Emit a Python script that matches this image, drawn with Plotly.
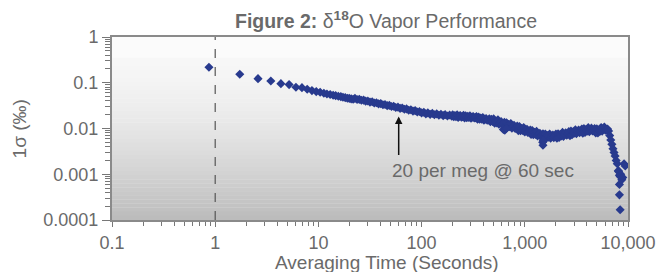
import plotly.graph_objects as go

# ---- data ----
tau_a = [0.87, 1.73, 2.60, 3.46, 4.33, 5.20, 6.06, 6.93, 7.79, 8.66, 9.53, 10.4,
         11.3, 12.1, 13.0, 13.9, 14.7, 15.6, 16.5, 17.3, 18.2, 19.1, 19.9, 20.8, 21.7]
sig_a = [0.218, 0.153, 0.123, 0.109, 0.0955, 0.091, 0.0798, 0.0782, 0.0721, 0.0673, 0.064, 0.0621,
         0.059, 0.0569, 0.0552, 0.0533, 0.0523, 0.0507, 0.0497, 0.0482, 0.0472, 0.0460, 0.0455, 0.0444, 0.0437]

tau_b = [22.6, 23.7, 24.9, 26.1, 27.4, 28.7, 30.1, 31.6, 33.2, 34.8, 36.5, 38.3, 40.2, 42.2, 44.2,
         46.4, 48.7, 51.1, 53.6, 56.2, 59.0, 61.9, 64.9, 68.1, 71.5, 75.0, 78.7, 82.5, 86.6, 90.9,
         95.3, 100, 105, 110, 115, 121, 127, 133, 140, 147, 154, 162, 169, 178, 187, 196]
sig_b = [0.0455, 0.0432, 0.0434, 0.0413, 0.0418, 0.0396, 0.0399, 0.0378, 0.0383, 0.0362, 0.0366, 0.0346,
         0.0350, 0.0330, 0.0334, 0.0316, 0.0320, 0.0302, 0.0306, 0.0288, 0.0293, 0.0276, 0.0280, 0.0263,
         0.0268, 0.0251, 0.0257, 0.0240, 0.0246, 0.0229, 0.0236, 0.0219, 0.0226, 0.0209, 0.0219, 0.0204,
         0.0214, 0.0200, 0.0209, 0.0195, 0.0205, 0.0191, 0.0201, 0.0188, 0.0198, 0.0185]

tau_c = [200, 205, 210, 215, 221, 226, 232, 237, 243, 249, 255, 261, 267, 274, 280, 287, 294, 301,
         309, 316, 324, 332, 340, 348, 357, 365, 374, 383, 392, 402, 412, 422, 432, 442, 453, 464,
         475, 487, 499, 511, 523, 536, 549, 562, 576, 590, 604, 619, 634, 649, 665, 681, 698, 715,
         732, 750, 768, 787, 806, 825, 845, 866, 887, 909, 931, 953, 976]
sig_c = [0.0200, 0.0180, 0.0193, 0.0182, 0.0200, 0.0175, 0.0186, 0.0192, 0.0177, 0.0181, 0.0194, 0.0169,
         0.0190, 0.0172, 0.0184, 0.0174, 0.0190, 0.0167, 0.0177, 0.0183, 0.0169, 0.0173, 0.0183, 0.0160,
         0.0179, 0.0160, 0.0170, 0.0160, 0.0174, 0.0152, 0.0160, 0.0164, 0.0151, 0.0153, 0.0163, 0.0141,
         0.0159, 0.0142, 0.0162, 0.0131, 0.0146, 0.0133, 0.0155, 0.0124, 0.0134, 0.0141, 0.0121, 0.0125,
         0.0137, 0.0109, 0.0134, 0.0108, 0.0122, 0.0110, 0.0128, 0.0102, 0.0111, 0.0117, 0.0100, 0.0103,
         0.0113, 0.0090, 0.0110, 0.0089, 0.0100, 0.0091, 0.0105]

tau_d = [1000, 1020, 1050, 1070, 1100, 1130, 1150, 1180, 1210, 1240, 1270, 1300, 1330, 1370, 1400,
         1430, 1470, 1500, 1540, 1580, 1620, 1650, 1690, 1740, 1780, 1820, 1870, 1910, 1960, 2000,
         2050, 2100, 2150, 2210, 2260, 2320, 2370, 2430, 2490, 2550, 2610, 2670, 2740, 2800, 2870,
         2940, 3010, 3090, 3160, 3240, 3320, 3400, 3480, 3570, 3650, 3740, 3830, 3920, 4020, 4120,
         4220, 4320, 4420, 4530, 4640, 4750, 4870, 4990, 5110, 5230, 5360, 5490, 5620, 5760, 5900,
         6040, 6190, 6340, 6490, 6650, 6810, 6980, 7150, 7320, 7500, 7680, 7870, 8060, 8250]
sig_d = [0.00842, 0.00910, 0.00958, 0.00818, 0.00849, 0.00929, 0.00737, 0.00906, 0.00729, 0.00821,
         0.00745, 0.00864, 0.00690, 0.00746, 0.00785, 0.00671, 0.00701, 0.00768, 0.00614, 0.00761,
         0.00617, 0.00700, 0.00642, 0.00754, 0.00611, 0.00672, 0.00722, 0.00632, 0.00671, 0.00752,
         0.00612, 0.00770, 0.00635, 0.00734, 0.00689, 0.00821, 0.00674, 0.00749, 0.00810, 0.00712,
         0.00759, 0.00853, 0.00696, 0.00880, 0.00728, 0.00843, 0.00786, 0.00936, 0.00769, 0.00855,
         0.00924, 0.00813, 0.00866, 0.00970, 0.00789, 0.00993, 0.00819, 0.00945, 0.00878, 0.01043,
         0.00854, 0.00945, 0.01017, 0.00879, 0.00916, 0.01003, 0.00796, 0.00979, 0.00797, 0.00922,
         0.00869, 0.01053, 0.00878, 0.00990, 0.01075, 0.00921, 0.00941, 0.00971, 0.0088, 0.0070,
         0.0056, 0.0045, 0.0036, 0.0030, 0.0025, 0.0020, 0.0017, 0.0012, 0.00095]

tau_x = [620, 640, 660, 1490, 1500, 1510, 8100, 8260, 8395, 8500, 8710, 8900, 9165, 9400, 8260, 8395]
sig_x = [0.0095, 0.0092, 0.0100, 0.0050, 0.0043, 0.0055, 0.00115, 0.00060, 0.00089, 0.00100,
         0.00076, 0.00085, 0.00169, 0.00152, 0.000355, 0.000167]

x_tickvals = [0.1, 1, 10, 100, 1000, 10000]
x_ticktext = ["0.1", "1", "10", "100", "1,000", "10,000"]
y_tickvals = [0.0001, 0.001, 0.01, 0.1, 1]
y_ticktext = ["0.0001", "0.001", "0.01", "0.1", "1"]

marker_line_x = [1, 1]
marker_line_y = [0.0001, 1]

tau = tau_a + tau_b + tau_c + tau_d + tau_x
sig = sig_a + sig_b + sig_c + sig_d + sig_x

FONT = "Liberation Sans, Arial, sans-serif"
GRAY = "#6a6a6a"

fig = go.Figure()

fig.add_trace(go.Scatter(x=marker_line_x, y=marker_line_y, mode="lines",
                         line=dict(color="#555555", width=1.2, dash="dash"),
                         hoverinfo="skip", showlegend=False))
fig.add_trace(go.Scatter(x=tau, y=sig, mode="markers",
                         marker=dict(symbol="diamond", size=7, color="#283a8e",
                                     line=dict(width=0)),
                         showlegend=False))

# gradient background
shapes = []
shapes.append(dict(type="rect", xref="paper", yref="paper", x0=0, x1=1, y0=0.885, y1=1,
                   fillcolor="#fbfbfb", line=dict(width=0), layer="below"))
N = 40
for i in range(N):
    t0 = i / N
    t = (i + 0.5) / N
    c = int(round(247 - 60 * t ** 1.5))
    y1 = 0.885 * (1 - t0)
    y0 = 0.885 * (1 - (i + 1) / N)
    shapes.append(dict(type="rect", xref="paper", yref="paper", x0=0, x1=1, y0=y0, y1=y1 + 0.002,
                       fillcolor=f"rgb({c},{c},{c})", line=dict(width=0), layer="below"))

fig.update_layout(
    width=668, height=272,
    margin=dict(l=112, r=29, t=37, b=52),
    paper_bgcolor="white", plot_bgcolor="white",
    font=dict(family=FONT, color=GRAY, size=18),
    shapes=shapes,
    title=dict(text="<b>Figure 2:</b> δ<sup><b>18</b></sup>O Vapor Performance",
               x=386 / 668, xanchor="center", xref="container",
               y=1 - 21 / 272, yanchor="middle", yref="container",
               font=dict(family=FONT, size=19.5, color=GRAY)),
    xaxis=dict(type="log", range=[-1, 4], tickvals=x_tickvals, ticktext=x_ticktext,
               ticks="outside", ticklen=5, tickcolor="#777777", tickwidth=1,
               showline=True, linecolor="#8a8a8a", linewidth=2, mirror=True,
               showgrid=False, zeroline=False,
               tickfont=dict(size=18, color=GRAY),
               minor=dict(ticks="outside", ticklen=4, tickcolor="#777777", dtick="D1", showgrid=False)),
    yaxis=dict(type="log", range=[-4, 0], tickvals=y_tickvals, ticktext=y_ticktext,
               ticks="outside", ticklen=8, tickcolor="#777777", tickwidth=1,
               showline=True, linecolor="#8a8a8a", linewidth=2, mirror=True,
               showgrid=False, zeroline=False,
               tickfont=dict(size=18, color=GRAY),
               minor=dict(ticks="outside", ticklen=5, tickcolor="#777777", dtick="D1", showgrid=False)),
    annotations=[
        dict(x=1.778, y=-1.736, xref="x", yref="y", ax=0, ay=40, text="",
             showarrow=True, arrowhead=2, arrowsize=1, arrowwidth=1.5, arrowcolor="#111111"),
        dict(x=2.593, y=-2.926, xref="x", yref="y", text="20 per meg @ 60 sec",
             showarrow=False, xanchor="center", yanchor="middle",
             font=dict(family=FONT, size=19, color=GRAY)),
        dict(x=(393 - 112) / 526.6, y=(220 - 262) / 183, xref="paper", yref="paper",
             text="Averaging Time (Seconds)", showarrow=False, xanchor="center", yanchor="middle",
             font=dict(family=FONT, size=19, color=GRAY)),
        dict(x=(18 - 112) / 526.6, y=0.5, xref="paper", yref="paper", textangle=-90,
             text="1σ (‰)", showarrow=False, xanchor="center", yanchor="middle",
             font=dict(family=FONT, size=19, color=GRAY)),
    ],
)

fig.write_html("out.html", config={"displayModeBar": False},
               post_script="document.body.style.margin='0';document.body.style.padding='0';")
